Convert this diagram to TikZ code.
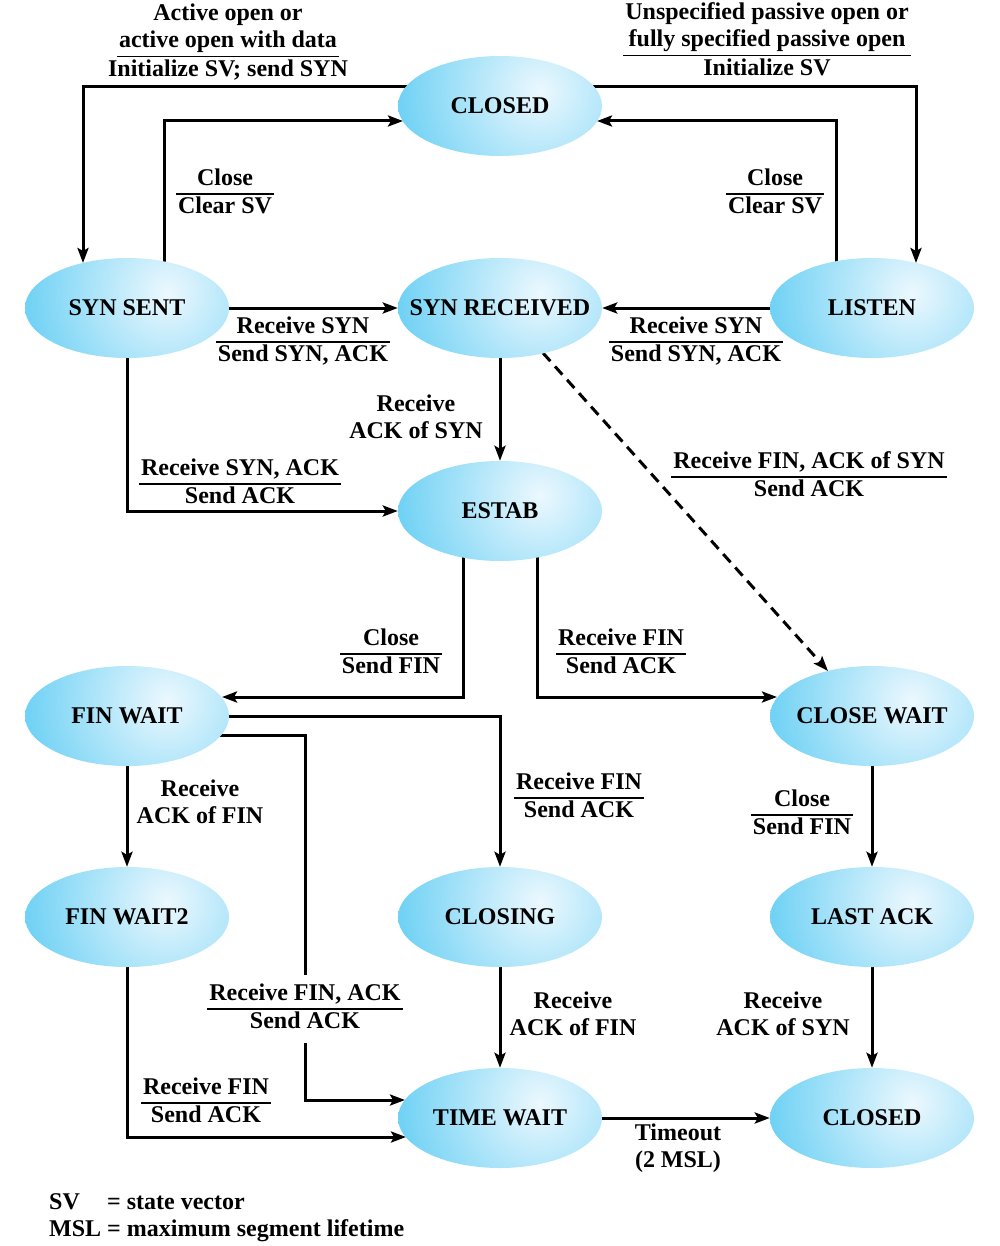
\documentclass[tikz,border=0pt]{standalone}
\usepackage{fontspec}
\setmainfont{Liberation Serif}
\usetikzlibrary{shapes.geometric,arrows.meta,calc,backgrounds}
\definecolor{cyanc}{RGB}{0,175,236}
\definecolor{lightc}{RGB}{236,248,254}
\newcommand{\lbl}[2]{\begin{tabular}{@{\hspace{2pt}}c@{\hspace{2pt}}}#1\\\hline #2\end{tabular}}
\newcommand{\two}[2]{\begin{tabular}{@{}c@{}}#1\\#2\end{tabular}}
\newcommand{\st}[1]{\makebox[0pt]{#1}}
\setlength{\arrayrulewidth}{1.6pt}
\tikzset{
 state/.style={ellipse, minimum width=204pt, minimum height=100pt, inner sep=0pt,
   path picture={\shade[inner color=lightc,outer color=cyanc] ($(path picture bounding box.center)+(40,-15)$) circle (270pt);}},
 arr/.style={line width=3pt, -{Stealth[length=15pt,width=11pt,inset=3pt]}},
 dsh/.style={dash pattern=on 11pt off 7pt},
 lab/.style={inner sep=0pt},
}
\begin{document}
\begin{tikzpicture}[x=1pt,y=-1pt,font=\fontsize{24}{27}\selectfont\bfseries]
\useasboundingbox (0,0) rectangle (1000,1246);
% states
\node[state] (closedT) at (500,106) {\st{CLOSED}};
\node[state] (synsent) at (127,308) {\st{SYN SENT}};
\node[state] (synrcv) at (500,308) {\st{SYN RECEIVED}};
\node[state] (listen) at (872,308) {\st{LISTEN}};
\node[state] (estab) at (500,511) {\st{ESTAB}};
\node[state] (finwait) at (127,716) {\st{FIN WAIT}};
\node[state] (closewait) at (872,716) {\st{CLOSE WAIT}};
\node[state] (finwait2) at (127,917) {\st{FIN WAIT2}};
\node[state] (closing) at (500,917) {\st{CLOSING}};
\node[state] (lastack) at (872,917) {\st{LAST ACK}};
\node[state] (timewait) at (500,1118) {\st{TIME WAIT}};
\node[state] (closedB) at (872,1118) {\st{CLOSED}};
% labels
\node[lab] (l1) at (228,43) {\begin{tabular}{@{\hspace{2pt}}c@{\hspace{2pt}}}Active open or\\active open with data\\\hline\makebox[0pt]{Initialize SV; send SYN}\end{tabular}};
\node[lab] (l2) at (767,42) {\begin{tabular}{@{\hspace{2pt}}c@{\hspace{2pt}}}Unspecified passive open or\\fully specified passive open\\\hline Initialize SV\end{tabular}};
\node[lab] (l3) at (225,194) {\lbl{Close}{Clear SV}};
\node[lab] (l4) at (775,194) {\lbl{Close}{Clear SV}};
\node[lab] (l5) at (303,342) {\lbl{Receive SYN}{Send SYN, ACK}};
\node[lab] (l6) at (696,342) {\lbl{Receive SYN}{Send SYN, ACK}};
\node[lab] (l7) at (416,420) {\two{Receive}{ACK of SYN}};
\node[lab] (l8) at (240,484) {\lbl{Receive SYN, ACK}{Send ACK}};
\node[lab] (l9) at (809,477) {\lbl{Receive FIN, ACK of SYN}{Send ACK}};
\node[lab] (l10) at (391,654) {\lbl{Close}{Send FIN}};
\node[lab] (l11) at (621,654) {\lbl{Receive FIN}{Send ACK}};
\node[lab] (l12) at (579,798) {\lbl{Receive FIN}{Send ACK}};
\node[lab] (l13) at (200,805) {\two{Receive}{ACK of FIN}};
\node[lab] (l14) at (802,815) {\lbl{Close}{Send FIN}};
\node[lab,fill=white,inner ysep=6pt] (l15) at (305,1009) {\lbl{Receive FIN, ACK}{Send ACK}};
\node[lab] (l16) at (573,1017) {\two{Receive}{ACK of FIN}};
\node[lab] (l17) at (783,1017) {\two{Receive}{ACK of SYN}};
\node[lab] (l18) at (206,1103) {\lbl{Receive FIN}{Send ACK}};
\node[lab] (l19) at (678,1149) {\two{Timeout}{(2 MSL)}};
\node[lab,anchor=west] (legend) at (49,1218) {\begin{tabular}{@{}l@{\hspace{6pt}}l@{}}SV & = state vector\\MSL & = maximum segment lifetime\end{tabular}};
% connectors
\begin{scope}[on background layer]
\fill[white] (0,0) rectangle (1000,1246);
\draw[arr] ($(closedT)+(0,-19)$) -| ($(synsent)+(-44,-45)$);
\draw[arr] ($(synsent)+(37,0)$) |- ($(closedT)+(-97,15)$);
\draw[arr] ($(closedT)+(0,-19)$) -| ($(listen)+(44,-45)$);
\draw[arr] ($(listen)+(-36,0)$) |- ($(closedT)+(97,15)$);
\draw[arr] (synsent) -- (synrcv);
\draw[arr] (listen) -- (synrcv);
\draw[arr] (synrcv) -- (estab);
\draw[arr] (synsent) |- (estab);
\draw[arr,dsh] ($(synrcv)+(43,45)$) -- ($(closewait)+(-44,-45)$);
\draw[arr] ($(estab)+(-37,0)$) |- ($(finwait)+(95,-19)$);
\draw[arr] ($(estab)+(37,0)$) |- ($(closewait)+(-95,-19)$);
\draw[arr] (finwait) -| (closing);
\draw[arr] ($(finwait)+(0,19)$) -| ($(timewait)+(-195,-18)$) -- ($(timewait)+(-95,-18)$);
\draw[arr] (finwait) -- (finwait2);
\draw[arr] (finwait2) |- ($(timewait)+(-94,19)$);
\draw[arr] (closewait) -- (lastack);
\draw[arr] (closing) -- (timewait);
\draw[arr] (lastack) -- (closedB);
\draw[arr] (timewait) -- (closedB);
\end{scope}
\end{tikzpicture}
\end{document}
